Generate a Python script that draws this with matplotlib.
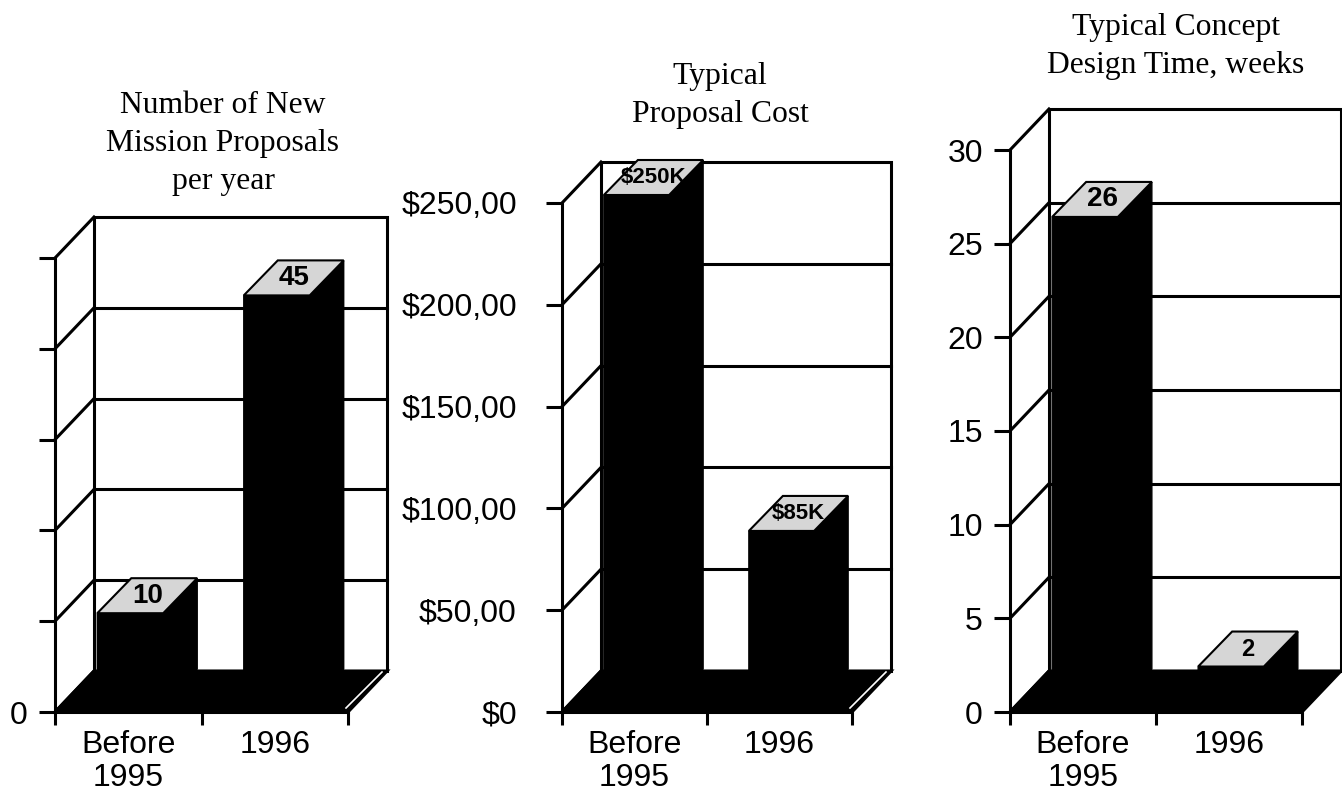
import matplotlib
matplotlib.use("Agg")
import matplotlib.pyplot as plt
from matplotlib.patches import Polygon

# data
categories = ["Before\n1995", "1996"]
proposals_per_year = [10, 45]
proposal_cost_k = [250, 85]
design_weeks = [26, 2]

proposal_labels = ["10", "45"]
cost_labels = ["$250K", "$85K"]
weeks_labels = ["26", "2"]

proposal_ticks = [0, 10, 20, 30, 40, 50]
proposal_ticklabels = ["0", "", "", "", "", ""]
cost_ticks = [0, 50, 100, 150, 200, 250]
cost_ticklabels = ["$0", "$50,00", "$100,00", "$150,00", "$200,00", "$250,00"]
weeks_ticks = [0, 5, 10, 15, 20, 25, 30]
weeks_ticklabels = ["0", "5", "10", "15", "20", "25", "30"]

titles = ["Number of New\nMission Proposals\nper year",
          "Typical\nProposal Cost",
          "Typical Concept\nDesign Time, weeks"]

W, H = 1342, 797
LW = 2.2
WALL = (39, 41)        # depth of the 3d box, px (right, up)
BAR_FRONT = (2, 8)     # bars sit slightly behind the front plane
BAR_DEPTH = (34, 35)
TOP_GRAY = "#d6d6d6"
SANS = "Liberation Sans"
SERIF = "Liberation Serif"

fig = plt.figure(figsize=(W / 100, H / 100), dpi=100)


def draw_panel(box, vals, bar_text, label_sizes, ticks, ticklabels, ypad, title,
               title_xy, sliver=True):
    left, bottom, right, top = box
    ax = fig.add_axes([left / W, 1 - bottom / H, (right - left) / W, (bottom - top) / H])
    n = len(vals)
    ax.set_xlim(0, n)
    ax.set_ylim(ticks[0], ticks[-1])
    ax.patch.set_visible(False)
    for s in ["top", "right"]:
        ax.spines[s].set_visible(False)
    for s in ["left", "bottom"]:
        ax.spines[s].set_linewidth(LW)
        ax.spines[s].set_zorder(5)

    # px -> data units
    ux = n / (right - left)
    uy = (ticks[-1] - ticks[0]) / (bottom - top)
    wdx, wdy = WALL[0] * ux, WALL[1] * uy

    # back wall with gridlines
    ax.add_patch(Polygon([(wdx, wdy), (n + wdx, wdy), (n + wdx, ticks[-1] + wdy),
                          (wdx, ticks[-1] + wdy)], closed=True, fc="white", ec="black",
                         lw=LW, clip_on=False, zorder=1))
    for t in ticks[1:-1]:
        ax.plot([wdx, n + wdx], [t + wdy, t + wdy], color="black", lw=LW,
                clip_on=False, zorder=1)
    # side wall diagonals
    for t in ticks:
        ax.plot([0, wdx], [t, t + wdy], color="black", lw=LW, clip_on=False, zorder=1)

    # floor
    ax.add_patch(Polygon([(0, 0), (n, 0), (n + wdx, wdy), (wdx, wdy)], closed=True,
                         fc="black", ec="black", lw=LW, clip_on=False, zorder=2))
    if sliver:
        ax.plot([n - 2 * ux, n + wdx - 5 * ux], [4 * uy, wdy - 1 * uy], color="white",
                lw=1.2, clip_on=False, zorder=2.5)

    # bars
    fx, fy = BAR_FRONT[0] * ux, BAR_FRONT[1] * uy
    bdx, bdy = BAR_DEPTH[0] * ux, BAR_DEPTH[1] * uy
    bw = 0.45
    for i, v in enumerate(vals):
        xl = i + 0.5 - bw / 2 + fx
        xr = i + 0.5 + bw / 2 + fx
        y0, y1 = fy, v + fy
        body = [(xl, y0), (xr, y0), (xr + bdx, y0 + bdy), (xr + bdx, y1 + bdy),
                (xr, y1), (xl, y1)]
        ax.add_patch(Polygon(body, closed=True, fc="black", ec="black", lw=1,
                             clip_on=False, zorder=3))
        topf = [(xl, y1), (xr, y1), (xr + bdx, y1 + bdy), (xl + bdx, y1 + bdy)]
        ax.add_patch(Polygon(topf, closed=True, fc=TOP_GRAY, ec="black", lw=1.5,
                             clip_on=False, zorder=4))
        ax.text((xl + xr) / 2 + bdx / 2, y1 + bdy / 2, bar_text[i], ha="center",
                va="center", fontsize=label_sizes[i], fontweight="bold", family=SANS,
                zorder=6, clip_on=False)

    # axes ticks and labels
    ax.set_yticks(ticks)
    ax.set_yticklabels(ticklabels, fontsize=23, family=SANS)
    ax.tick_params(axis="y", length=11.5, width=LW, pad=ypad)
    ax.set_xticks(range(n + 1))
    ax.set_xticklabels([""] * (n + 1))
    ax.tick_params(axis="x", which="major", length=9, width=LW)
    ax.set_xticks([i + 0.5 for i in range(n)], minor=True)
    ax.set_xticklabels(categories, minor=True, fontsize=23, family=SANS,
                       linespacing=1.12)
    ax.tick_params(axis="x", which="minor", length=0, pad=13)

    fig.text(title_xy[0] / W, 1 - title_xy[1] / H, title, ha="center", va="top",
             fontsize=22.8, family=SERIF, linespacing=1.4)
    return ax


draw_panel((55, 712, 348, 258), proposals_per_year, proposal_labels, [20, 20],
           proposal_ticks, proposal_ticklabels, 8, titles[0], (223, 91))
draw_panel((562, 712, 852, 203), proposal_cost_k, cost_labels, [16, 16],
           cost_ticks, cost_ticklabels, 21, titles[1], (720, 62))
draw_panel((1010, 712, 1302, 150), design_weeks, weeks_labels, [20, 17],
           weeks_ticks, weeks_ticklabels, 8, titles[2], (1176, 13), sliver=False)

fig.savefig("out.png", dpi=100)
